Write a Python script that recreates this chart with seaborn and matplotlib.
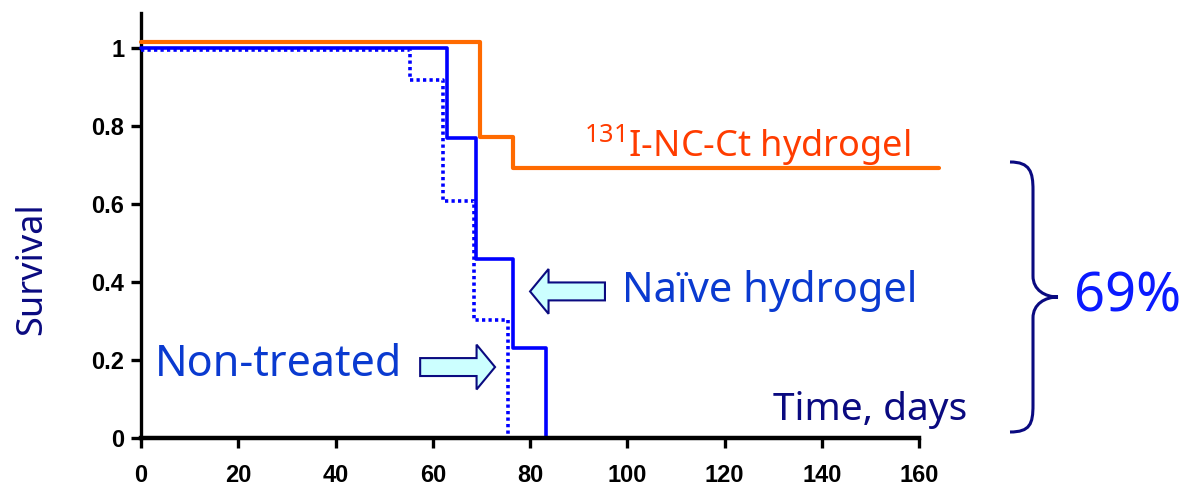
import pandas as pd
import matplotlib.pyplot as plt
import seaborn as sns
from matplotlib.patches import FancyArrow, PathPatch
from matplotlib.path import Path

# survival curves (time in days, survival fraction)
iodine_time = [0, 69.7, 76.5, 164]
iodine_surv = [1.015, 0.772, 0.692, 0.692]
naive_time = [0, 62.9, 68.9, 76.5, 83.3]
naive_surv = [1.0, 0.77, 0.459, 0.231, 0.0]
nontreated_time = [0, 55.3, 62.1, 68.5, 75.5]
nontreated_surv = [0.995, 0.918, 0.608, 0.303, 0.0]

x_ticks = [0, 20, 40, 60, 80, 100, 120, 140, 160]
y_ticks = [0, 0.2, 0.4, 0.6, 0.8, 1.0]
y_tick_labels = ['0', '0.2', '0.4', '0.6', '0.8', '1']

df = pd.concat([
    pd.DataFrame({'time': iodine_time, 'surv': iodine_surv, 'group': 'iodine'}),
    pd.DataFrame({'time': naive_time, 'surv': naive_surv, 'group': 'naive'}),
    pd.DataFrame({'time': nontreated_time, 'surv': nontreated_surv, 'group': 'nontreated'}),
])

sns.set_style("ticks")
plt.rcParams['font.family'] = ['Liberation Sans', 'DejaVu Sans']
plt.rcParams['mathtext.default'] = 'regular'

fig = plt.figure(figsize=(11.87, 4.97), dpi=100)
ax = fig.add_axes([0.1188, 0.1187, 0.676, 0.855])

sns.lineplot(data=df[df.group == 'iodine'], x='time', y='surv', color='#ff6a00',
             linewidth=3, drawstyle='steps-post', estimator=None, ax=ax, clip_on=False, zorder=3)
sns.lineplot(data=df[df.group == 'naive'], x='time', y='surv', color='#0000ff',
             linewidth=2.6, drawstyle='steps-post', estimator=None, ax=ax, clip_on=False, zorder=4)
sns.lineplot(data=df[df.group == 'nontreated'], x='time', y='surv', color='#0000ff',
             linewidth=2.6, linestyle=(0, (0.9, 0.9)), drawstyle='steps-post', estimator=None,
             ax=ax, clip_on=False, zorder=4)

ax.set_xlim(0, 165)
ax.set_ylim(0, 1.09)
sns.despine(ax=ax)
ax.spines['bottom'].set_bounds(0, 160)
ax.spines['bottom'].set_linewidth(3.2)
ax.spines['left'].set_linewidth(2.4)
ax.spines['bottom'].set_color('black')
ax.spines['left'].set_color('black')
ax.spines['bottom'].set_zorder(5)

ax.set_xticks(x_ticks)
ax.set_yticks(y_ticks)
ax.set_yticklabels(y_tick_labels)
ax.tick_params(axis='x', length=7, width=2.4, pad=12, labelsize=17, color='black', labelcolor='black')
ax.tick_params(axis='y', length=7, width=2.4, pad=5, labelsize=17, color='black', labelcolor='black')
for lab in ax.get_xticklabels() + ax.get_yticklabels():
    lab.set_fontweight('bold')
ax.set_xlabel('')
ax.set_ylabel('')

# annotations
navy = '#0a0a80'
ax.text(170, 0.072, 'Time, days', color=navy, fontsize=28, ha='right', va='center',
        family=['Noto Sans', 'DejaVu Sans'])
fig.text(0.027, 0.46, 'Survival', color=navy, fontsize=26, rotation=90, ha='center', va='center',
         family=['Noto Sans', 'DejaVu Sans'])
ax.text(91.0, 0.75, r'$^{131}$I-NC-Ct hydrogel', color='#ff3c00', fontsize=26, ha='left', va='center',
        family=['Noto Sans', 'DejaVu Sans'])
ax.text(98.9, 0.378, 'Naïve hydrogel', color='#0a3ad0', fontsize=30, ha='left', va='center',
        family=['Noto Sans', 'DejaVu Sans'])
ax.text(2.9, 0.186, 'Non-treated', color='#0a3ad0', fontsize=31, ha='left', va='center',
        family=['Noto Sans', 'DejaVu Sans'])

ax.add_patch(FancyArrow(95.4, 0.376, -15.4, 0, width=0.046, head_width=0.115, head_length=3.8,
                        length_includes_head=True, facecolor='#ccffff', edgecolor=navy,
                        linewidth=1.5, zorder=6))
ax.add_patch(FancyArrow(57.4, 0.182, 15.4, 0, width=0.046, head_width=0.115, head_length=3.8,
                        length_includes_head=True, facecolor='#ccffff', edgecolor=navy,
                        linewidth=1.5, zorder=6))

# curly brace at the right, in pixel coordinates of the figure
W, H = 1187.0, 497.0
pts = [(1010, 162), (1030, 162), (1033, 172), (1033, 190), (1033, 276),
       (1033, 290), (1045, 297), (1058, 297),
       (1045, 297), (1033, 304), (1033, 318), (1033, 405),
       (1033, 424), (1030, 432), (1010, 432)]
codes = [Path.MOVETO, Path.CURVE4, Path.CURVE4, Path.CURVE4, Path.LINETO,
         Path.CURVE4, Path.CURVE4, Path.CURVE4,
         Path.CURVE4, Path.CURVE4, Path.CURVE4, Path.LINETO,
         Path.CURVE4, Path.CURVE4, Path.CURVE4]
brace = Path([(x / W, 1 - y / H) for x, y in pts], codes)
fig.patches.append(PathPatch(brace, transform=fig.transFigure, facecolor='none',
                             edgecolor=navy, linewidth=2.2))
fig.text(1128 / W, 1 - 297 / H, '69%', color='#0a1aff', fontsize=39, ha='center', va='center',
         family=['Noto Sans', 'DejaVu Sans'])

plt.savefig('out.png', dpi=100)
